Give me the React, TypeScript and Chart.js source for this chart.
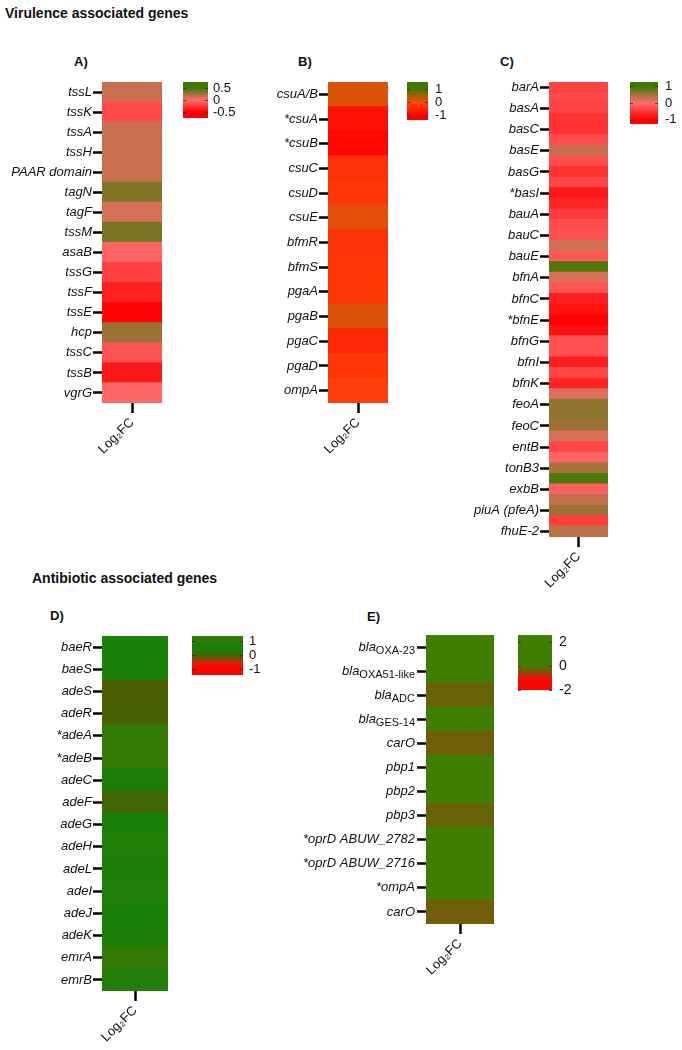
import React, { useEffect, useRef } from 'react';
import { Chart, registerables } from 'chart.js';

Chart.register(...registerables);

const FONT = '"Liberation Sans", Arial, Helvetica, sans-serif';

// ---------- Data ----------
const genesA = ['tssL', 'tssK', 'tssA', 'tssH', 'PAAR domain', 'tagN', 'tagF', 'tssM', 'asaB', 'tssG', 'tssF', 'tssE', 'hcp', 'tssC', 'tssB', 'vgrG'];
const log2fcA = [0.14, -0.16, 0.14, 0.14, 0.14, 0.33, 0.1, 0.35, -0.04, -0.2, -0.35, -0.48, 0.26, -0.11, -0.39, -0.03];

const genesB = ['csuA/B', '*csuA', '*csuB', 'csuC', 'csuD', 'csuE', 'bfmR', 'bfmS', 'pgaA', 'pgaB', 'pgaC', 'pgaD', 'ompA'];
const log2fcB = [0.2, -0.75, -0.92, -0.3, -0.25, 0.15, -0.3, -0.27, -0.22, 0.2, -0.45, -0.25, -0.12];

// Panel C: one label for every other row
const genesC = ['barA', 'basA', 'basC', 'basE', 'basG', '*basI', 'bauA', 'bauC', 'bauE', 'bfnA', 'bfnC', '*bfnE', 'bfnG', 'bfnI', 'bfnK', 'feoA', 'feoC', 'entB', 'tonB3', 'exbB', 'piuA (pfeA)', 'fhuE-2'];
const log2fcC = [
  -0.38, -0.33, -0.38, -0.55, -0.52, -0.3, 0.28, -0.3, -0.55, -0.35,
  -0.78, -0.65, -0.45, -0.3, -0.25, 0.25, -0.2, 0.92, 0.18, -0.22,
  -0.72, -0.82, -0.98, -0.85, -0.25, -0.25, -0.72, -0.35, -0.68, 0.18,
  0.58, 0.58, 0.52, 0.2, -0.35, -0.08, 0.45, 0.92, -0.12, 0.3,
  0.52, -0.42, 0.35,
];

const genesD = ['baeR', 'baeS', 'adeS', 'adeR', '*adeA', '*adeB', 'adeC', 'adeF', 'adeG', 'adeH', 'adeL', 'adeI', 'adeJ', 'adeK', 'emrA', 'emrB'];
const log2fcD = [0.7, 0.7, -0.1, -0.08, 1.2, 1.2, 0.45, 0.0, 0.6, 0.9, 0.5, 0.85, 0.6, 0.55, 1.2, 0.85];

const genesEMain = ['bla', 'bla', 'bla', 'bla', 'carO', 'pbp1', 'pbp2', 'pbp3', '*oprD ABUW_2782', '*oprD ABUW_2716', '*ompA', 'carO'];
const genesESub = ['OXA-23', 'OXA51-like', 'ADC', 'GES-14', '', '', '', '', '', '', '', ''];
const log2fcE = [1.5, 1.5, -0.3, 1.6, -0.35, 1.5, 1.5, -0.3, 1.5, 1.5, 1.5, -0.35];

const legendTicksA = [0.5, 0, -0.5];
const legendTicksB = [1, 0, -1];
const legendTicksC = [1, 0, -1];
const legendTicksD = [1, 0, -1];
const legendTicksE = [2, 0, -2];

const xLabel = 'Log₂FC';

// ---------- Colour scales ----------
type RGB = [number, number, number];
type Stop = [number, RGB];

const stopsA: Stop[] = [[-0.5, [255, 0, 0]], [0, [255, 108, 108]], [0.5, [60, 122, 0]]];
const stopsB: Stop[] = [[-1, [255, 0, 0]], [0, [255, 72, 10]], [1, [65, 120, 0]]];
const stopsC: Stop[] = [[-1, [255, 0, 0]], [0, [255, 108, 108]], [1, [60, 122, 0]]];
const stopsD: Stop[] = [[-1, [255, 0, 0]], [-0.55, [225, 30, 10]], [-0.3, [130, 70, 10]], [-0.1, [75, 95, 5]], [0.3, [30, 122, 10]], [0.7, [25, 128, 10]], [1.4, [60, 120, 0]]];
const stopsE: Stop[] = [[-2, [255, 0, 0]], [-1, [240, 15, 5]], [-0.5, [130, 80, 10]], [0, [65, 125, 0]], [2.6, [60, 128, 0]]];

function colorAt(v: number, stops: Stop[]): string {
  const f = (c: RGB) => `rgb(${Math.round(c[0])},${Math.round(c[1])},${Math.round(c[2])})`;
  if (v <= stops[0][0]) return f(stops[0][1]);
  for (let i = 1; i < stops.length; i++) {
    const [v1, c1] = stops[i];
    const [v0, c0] = stops[i - 1];
    if (v <= v1) {
      const t = (v - v0) / (v1 - v0);
      return f([c0[0] + (c1[0] - c0[0]) * t, c0[1] + (c1[1] - c0[1]) * t, c0[2] + (c1[2] - c0[2]) * t]);
    }
  }
  return f(stops[stops.length - 1][1]);
}

// ---------- Heatmap ----------
interface PanelSpec {
  rowLabels: string[];
  values: number[];
  stops: Stop[];
  left: number; top: number; w: number; h: number;
  axisW: number; bottomH: number;
  subMain?: string[]; subSub?: string[];
}

function makeSubLabelPlugin(main: string[], sub: string[]) {
  return {
    id: 'subLabels',
    afterDraw(chart: any) {
      const scale = chart.scales.y;
      const ctx = chart.ctx;
      ctx.save();
      ctx.fillStyle = '#111';
      ctx.textBaseline = 'middle';
      ctx.textAlign = 'right';
      main.forEach((m, i) => {
        const y = scale.getPixelForTick(i);
        const xr = scale.right - 9 - 2;
        ctx.font = `11px ${FONT}`;
        const sw = sub[i] ? ctx.measureText(sub[i]).width : 0;
        if (sub[i]) ctx.fillText(sub[i], xr, y + 4);
        ctx.font = `italic 13px ${FONT}`;
        ctx.fillText(m, xr - sw, y);
      });
      ctx.restore();
    },
  };
}

function heatmapConfig(p: PanelSpec): any {
  const useSub = !!p.subMain;
  return {
    type: 'bar',
    data: {
      labels: p.rowLabels,
      datasets: [{
        data: p.values.map(() => 1),
        backgroundColor: p.values.map((v) => colorAt(v, p.stops)),
        borderWidth: 0,
        barPercentage: 1,
        categoryPercentage: 1,
        inflateAmount: 0.6,
      }],
    },
    options: {
      indexAxis: 'y',
      animation: false,
      responsive: false,
      events: [],
      layout: { padding: 0 },
      plugins: { legend: { display: false }, tooltip: { enabled: false } },
      scales: {
        x: {
          type: 'linear',
          min: 0,
          max: 1,
          position: 'bottom',
          afterBuildTicks: (s: any) => { s.ticks = [{ value: 0.5 }]; },
          ticks: {
            callback: () => xLabel,
            minRotation: 45,
            maxRotation: 45,
            autoSkip: false,
            padding: 2,
            color: '#111',
            font: { family: FONT, size: 13 },
          },
          grid: { drawOnChartArea: false, drawTicks: true, tickLength: 10, tickWidth: 2.5, tickColor: '#000' },
          border: { display: false },
          afterFit: (s: any) => { s.height = p.bottomH; s.paddingLeft = 0; s.paddingRight = 0; },
        },
        y: {
          type: 'category',
          offset: true,
          ticks: {
            display: !useSub,
            autoSkip: false,
            padding: 1,
            color: '#111',
            font: { family: FONT, size: 13, style: 'italic' },
          },
          grid: {
            offset: false,
            drawOnChartArea: false,
            drawTicks: true,
            tickLength: 9,
            tickWidth: 2.5,
            tickColor: (c: any) => (p.rowLabels[c.index] ? '#000' : 'rgba(0,0,0,0)'),
          },
          border: { display: false },
          afterFit: (s: any) => { s.width = p.axisW; s.paddingTop = 0; s.paddingBottom = 0; },
        },
      },
    },
    plugins: useSub ? [makeSubLabelPlugin(p.subMain!, p.subSub!)] : [],
  };
}

function Heatmap({ p }: { p: PanelSpec }) {
  const ref = useRef<HTMLCanvasElement>(null);
  const W = p.axisW + p.w;
  const H = p.h + p.bottomH;
  useEffect(() => {
    const chart = new Chart(ref.current!, heatmapConfig(p));
    return () => chart.destroy();
  }, []);
  return (
    <canvas
      ref={ref}
      width={W}
      height={H}
      style={{ position: 'absolute', left: p.left - p.axisW, top: p.top, width: W, height: H }}
    />
  );
}

// ---------- Colour-bar legend ----------
interface LegendSpec {
  left: number; top: number; w: number; h: number;
  min: number; max: number; ticks: number[]; stops: Stop[];
  labelW: number; pad: number; fontSize: number;
}

const LEG_PAD = 10;

function legendConfig(l: LegendSpec): any {
  const tickMarks = {
    id: 'barTicks',
    afterDatasetsDraw(chart: any) {
      const { ctx, chartArea } = chart;
      const y = chart.scales.y;
      ctx.save();
      ctx.strokeStyle = 'rgba(40,40,40,0.8)';
      ctx.lineWidth = 1;
      l.ticks.forEach((t) => {
        const py = Math.round(y.getPixelForValue(t)) + 0.5;
        ctx.beginPath();
        ctx.moveTo(chartArea.left, py);
        ctx.lineTo(chartArea.left + 3, py);
        ctx.moveTo(chartArea.right - 3, py);
        ctx.lineTo(chartArea.right, py);
        ctx.stroke();
      });
      ctx.restore();
    },
  };
  return {
    type: 'bar',
    data: {
      labels: [''],
      datasets: [{
        data: [[l.min, l.max]],
        backgroundColor: (c: any) => {
          const area = c.chart.chartArea;
          if (!area) return 'rgba(0,0,0,0)';
          const g = c.chart.ctx.createLinearGradient(0, area.bottom, 0, area.top);
          const n = 48;
          for (let i = 0; i <= n; i++) {
            const t = i / n;
            g.addColorStop(t, colorAt(l.min + (l.max - l.min) * t, l.stops));
          }
          return g;
        },
        borderWidth: 0,
        barPercentage: 1,
        categoryPercentage: 1,
      }],
    },
    options: {
      animation: false,
      responsive: false,
      events: [],
      layout: { padding: { top: LEG_PAD, bottom: LEG_PAD, left: 0, right: 0 } },
      plugins: { legend: { display: false }, tooltip: { enabled: false } },
      scales: {
        x: { display: false },
        y: {
          position: 'right',
          min: l.min,
          max: l.max,
          afterBuildTicks: (s: any) => { s.ticks = l.ticks.map((v) => ({ value: v })); },
          ticks: {
            callback: (v: any) => String(v),
            autoSkip: false,
            padding: l.pad,
            color: '#111',
            font: { family: FONT, size: l.fontSize },
          },
          grid: { display: false, drawTicks: false },
          border: { display: false },
          afterFit: (s: any) => { s.width = l.labelW; s.paddingTop = 0; s.paddingBottom = 0; },
        },
      },
    },
    plugins: [tickMarks],
  };
}

function ColorLegend({ l }: { l: LegendSpec }) {
  const ref = useRef<HTMLCanvasElement>(null);
  const W = l.w + l.labelW;
  const H = l.h + 2 * LEG_PAD;
  useEffect(() => {
    const chart = new Chart(ref.current!, legendConfig(l));
    return () => chart.destroy();
  }, []);
  return (
    <canvas
      ref={ref}
      width={W}
      height={H}
      style={{ position: 'absolute', left: l.left, top: l.top - LEG_PAD, width: W, height: H }}
    />
  );
}

// ---------- Specs ----------
const panelA: PanelSpec = { rowLabels: genesA, values: log2fcA, stops: stopsA, left: 102, top: 82, w: 60, h: 321, axisW: 100, bottomH: 75 };
const panelB: PanelSpec = { rowLabels: genesB, values: log2fcB, stops: stopsB, left: 328, top: 82, w: 60, h: 321, axisW: 100, bottomH: 75 };
const panelC: PanelSpec = {
  rowLabels: log2fcC.map((_, i) => (i % 2 === 0 ? genesC[i / 2] : '')),
  values: log2fcC, stops: stopsC, left: 549, top: 82, w: 59, h: 455, axisW: 90, bottomH: 75,
};
const panelD: PanelSpec = { rowLabels: genesD, values: log2fcD, stops: stopsD, left: 102, top: 636, w: 66, h: 355, axisW: 100, bottomH: 58 };
const panelE: PanelSpec = {
  rowLabels: genesEMain.map((m, i) => m + genesESub[i]),
  values: log2fcE, stops: stopsE, left: 426, top: 635, w: 68, h: 289, axisW: 130, bottomH: 75,
  subMain: genesEMain, subSub: genesESub,
};

const legA: LegendSpec = { left: 183, top: 82, w: 25, h: 36, min: -0.75, max: 0.75, ticks: legendTicksA, stops: stopsA, labelW: 40, pad: 5, fontSize: 13 };
const legB: LegendSpec = { left: 407, top: 82, w: 21, h: 38, min: -1.31, max: 1.53, ticks: legendTicksB, stops: stopsB, labelW: 30, pad: 7, fontSize: 13 };
const legC: LegendSpec = { left: 630, top: 82, w: 28, h: 42, min: -1.26, max: 1.26, ticks: legendTicksC, stops: stopsC, labelW: 30, pad: 7, fontSize: 13 };
const legD: LegendSpec = { left: 192, top: 636, w: 51, h: 39, min: -1.43, max: 1.36, ticks: legendTicksD, stops: stopsD, labelW: 30, pad: 6, fontSize: 13 };
const legE: LegendSpec = { left: 518, top: 635, w: 34, h: 55, min: -2, max: 2.55, ticks: legendTicksE, stops: stopsE, labelW: 30, pad: 7, fontSize: 14 };

function Label({ text, x, cy, size }: { text: string; x: number; cy: number; size: number }) {
  return (
    <div
      style={{
        position: 'absolute', left: x, top: cy - size / 2 - 1, fontFamily: FONT, fontWeight: 'bold',
        fontSize: size, lineHeight: `${size}px`, color: '#111', whiteSpace: 'nowrap',
      }}
    >
      {text}
    </div>
  );
}

export default function App() {
  return (
    <div style={{ position: 'absolute', left: 0, top: 0, width: 682, height: 1050, overflow: 'hidden', background: '#fff' }}>
      <Label text="Virulence associated genes" x={5} cy={14} size={14} />
      <Label text="A)" x={74} cy={62} size={13} />
      <Label text="B)" x={298} cy={62} size={13} />
      <Label text="C)" x={500} cy={62} size={13} />
      <Label text="Antibiotic associated genes" x={32} cy={579} size={14} />
      <Label text="D)" x={50} cy={616} size={13} />
      <Label text="E)" x={367} cy={617} size={13} />
      <Heatmap p={panelA} />
      <Heatmap p={panelB} />
      <Heatmap p={panelC} />
      <Heatmap p={panelD} />
      <Heatmap p={panelE} />
      <ColorLegend l={legA} />
      <ColorLegend l={legB} />
      <ColorLegend l={legC} />
      <ColorLegend l={legD} />
      <ColorLegend l={legE} />
    </div>
  );
}
